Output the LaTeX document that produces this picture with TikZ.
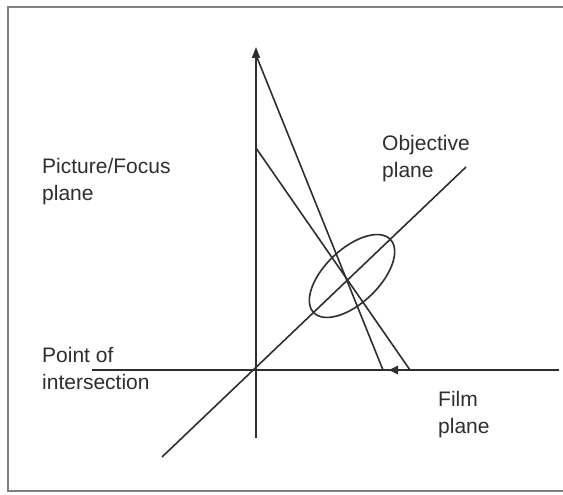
\documentclass[tikz,border=0pt]{standalone}
\usepackage{fontspec}
\setmainfont{Liberation Sans}
\usetikzlibrary{arrows.meta}
\definecolor{ink}{gray}{0.18}
\definecolor{framec}{gray}{0.5}
\tikzset{
  plane/.style={line width=1.6pt, draw=ink},
  lbl/.style={anchor=base west, inner sep=0pt, align=left, text=ink,
    font=\fontsize{21}{27}\selectfont},
}
\begin{document}
\begin{tikzpicture}[x=1pt,y=-1pt]
\useasboundingbox (0,0) rectangle (563,495);
% frame
\draw[line width=2pt, draw=framec] (575,7) -- (8,7) -- (8,491) -- (575,491);
% named points
\coordinate (vtop) at (256,47);
\coordinate (vbot) at (256,438);
\coordinate (hl) at (92,370);
\coordinate (hr) at (559,370);
\coordinate (dl) at (162,457);
\coordinate (dr) at (466,167);
\coordinate (r1s) at (256,55);
\coordinate (r1e) at (383,370);
\coordinate (r2s) at (256,148);
\coordinate (r2e) at (410,370);
% axes
\draw[plane, -{Triangle[length=11pt,width=8pt]}] (vbot) -- (vtop);
\draw[plane] (hl) -- (hr);
\draw[plane] (dl) -- (dr);
% rays
\draw[plane] (r1s) -- (r1e);
\draw[plane] (r2s) -- (r2e);
% small arrowhead on the film plane
\fill[ink] (389,370) -- (398,365.5) -- (398,374.5) -- cycle;
% lens
\draw[plane] (352,276) ellipse [x radius=53pt, y radius=27pt, rotate=43.6];
% labels (anchor = baseline of the last line)
\node[lbl] (pf) at (42,200) {Picture/Focus\\plane};
\node[lbl] (op) at (382,177) {Objective\\plane};
\node[lbl] (pi) at (42,389) {Point of\\intersection};
\node[lbl] (fp) at (438,433) {Film\\plane};
\end{tikzpicture}
\end{document}
